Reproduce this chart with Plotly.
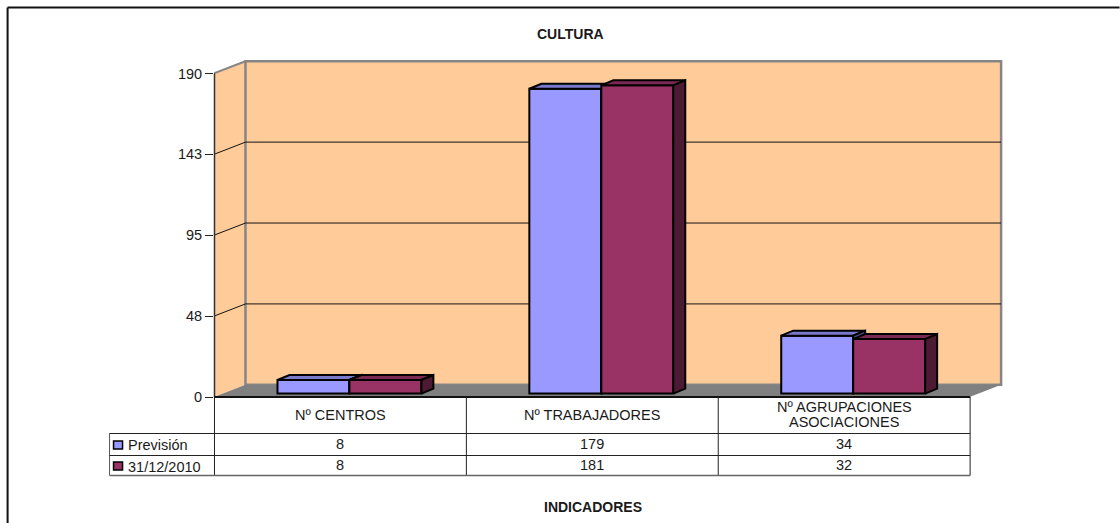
import plotly.graph_objects as go

# ---- data ----
categories = ["Nº CENTROS", "Nº TRABAJADORES", "Nº AGRUPACIONES<br>ASOCIACIONES"]
prevision = [8, 179, 34]
dic2010 = [8, 181, 32]
series_names = ["Previsión", "31/12/2010"]
tick_vals = [0, 47.5, 95, 142.5, 190]
tick_text = ["0", "48", "95", "143", "190"]
title_text = "CULTURA"
xtitle_text = "INDICADORES"

# ---- style ----
FONT = "Liberation Sans, Arial, sans-serif"
FS = 14.5
TXT = "#1a1a1a"
WALL = "#FFCC99"
EDGE = "#868686"
FLOOR = "#808080"
C1, C1_TOP, C1_SIDE = "#9999FF", "#7A7ACC", "#4D4D80"
C2, C2_TOP, C2_SIDE = "#993366", "#7A2952", "#4D1A33"

W, H = 1120, 523
L, T, B = 214, 56, 126
CAT_W = 252.0          # px per category
Y_SCALE = 1.703        # px per value unit
XMAX = 3.2
PW = XMAX * CAT_W
PH = H - T - B
YMAX = PH / Y_SCALE
R = W - L - PW


def px(x):
    return (x - L) / PW


def py(y):
    return 1 - (y - T) / PH


# depth in axis units
WALL_DX, WALL_DY = 31.5 / CAT_W, 12.2 / Y_SCALE
BAR_OX, BAR_BASE = 9.5 / CAT_W, 3.4 / Y_SCALE
BAR_DX, BAR_DY = 12.0 / CAT_W, 5.0 / Y_SCALE
BAR_W = 72.0 / CAT_W


def faces(values, shift):
    """Top and side polygons of the 3-D bars, from the values."""
    tx, ty, sx, sy = [], [], [], []
    for i, v in enumerate(values):
        x0 = i + 0.5 + BAR_OX + shift - BAR_W / 2
        x1 = x0 + BAR_W
        t = BAR_BASE + v
        tx += [x0, x0 + BAR_DX, x1 + BAR_DX, x1, x0, None]
        ty += [t, t + BAR_DY, t + BAR_DY, t, t, None]
        sx += [x1, x1 + BAR_DX, x1 + BAR_DX, x1, x1, None]
        sy += [BAR_BASE, BAR_BASE + BAR_DY, t + BAR_DY, t, BAR_BASE, None]
    return tx, ty, sx, sy


fig = go.Figure()


def add_series(values, shift, name, col, top, side, xa, ya):
    centers = [i + 0.5 + BAR_OX + shift for i in range(len(values))]
    fig.add_trace(go.Bar(x=centers, y=values, base=BAR_BASE, width=BAR_W, name=name,
                         marker=dict(color=col, line=dict(color="black", width=2)),
                         xaxis=xa, yaxis=ya, showlegend=False, hoverinfo="skip"))
    tx, ty, sx, sy = faces(values, shift)
    for fx, fy, c in ((tx, ty, top), (sx, sy, side)):
        fig.add_trace(go.Scatter(x=fx, y=fy, mode="lines", fill="toself", fillcolor=c,
                                 line=dict(color="black", width=2), xaxis=xa, yaxis=ya,
                                 showlegend=False, hoverinfo="skip"))


add_series(prevision, -BAR_W / 2, series_names[0], C1, C1_TOP, C1_SIDE, "x", "y")
add_series(dic2010, BAR_W / 2, series_names[1], C2, C2_TOP, C2_SIDE, "x2", "y2")

n = len(categories)
shapes = []
# side wall
shapes.append(dict(type="path", xref="x", yref="y", layer="below",
                   path=f"M0,0 L{WALL_DX},{WALL_DY} L{WALL_DX},{190+WALL_DY} L0,190 Z",
                   fillcolor=WALL, line=dict(width=0)))
# back wall
shapes.append(dict(type="rect", xref="x", yref="y", layer="below",
                   x0=WALL_DX, x1=n + WALL_DX, y0=WALL_DY, y1=190 + WALL_DY,
                   fillcolor=WALL, line=dict(color=EDGE, width=2.5)))
# top of side wall
shapes.append(dict(type="line", xref="x", yref="y", layer="below",
                   x0=0, x1=WALL_DX, y0=190, y1=190 + WALL_DY, line=dict(color=EDGE, width=2)))
# floor
shapes.append(dict(type="path", xref="x", yref="y", layer="below",
                   path=f"M0,0 L{WALL_DX},{WALL_DY} L{n+WALL_DX},{WALL_DY} L{n},0 Z",
                   fillcolor=FLOOR, line=dict(width=0)))
# gridlines on both walls
for v in tick_vals[1:-1]:
    shapes.append(dict(type="line", xref="x", yref="y", layer="below",
                       x0=0, x1=WALL_DX, y0=v, y1=v + WALL_DY, line=dict(color="#111111", width=1)))
    shapes.append(dict(type="line", xref="x", yref="y", layer="below",
                       x0=WALL_DX, x1=n + WALL_DX, y0=v + WALL_DY, y1=v + WALL_DY,
                       line=dict(color="#111111", width=1)))


def pline(x0, y0, x1, y1, color="#222222", width=1):
    shapes.append(dict(type="line", xref="paper", yref="paper", x0=px(x0), x1=px(x1),
                       y0=py(y0), y1=py(y1), line=dict(color=color, width=width)))


# outer frame, open to the right and bottom edges
pline(7.5, 7.5, W, 7.5, "#111111", 2)
pline(7.5, 7.5, 7.5, H, "#111111", 2)

# value axis line, floor edge
pline(214.5, 73.5, 214.5, 397, "#333333", 1.5)
pline(214.5, 397, 970.5, 397, "#111111", 2)

# data table
T_X = [214.5, 466.5, 718.5, 970.5]
T_LEFT = 109.5
R1, R2, R3 = 433.5, 455.5, 475.5
for x in T_X:
    pline(x, 397, x, R3)
pline(T_LEFT, R1, T_LEFT, R3, "#555555")
pline(T_LEFT, R1, 970.5, R1)
pline(T_LEFT, R2, 970.5, R2)
pline(T_LEFT, R3, 970.5, R3, "#666666", 1.5)

# legend keys
KEY_X0, KEY_X1 = 113.5, 122.5
for (y0, y1), c in zip(((441, 449), (462, 470)), (C1, C2)):
    shapes.append(dict(type="rect", xref="paper", yref="paper", x0=px(KEY_X0), x1=px(KEY_X1),
                       y0=py(y0), y1=py(y1), fillcolor=c, line=dict(color="black", width=1.5)))

ann = []


def text(x, y, s, size=FS, bold=False, anchor="center"):
    ann.append(dict(xref="paper", yref="paper", x=px(x), y=py(y), text=f"<b>{s}</b>" if bold else s,
                    showarrow=False, xanchor=anchor, yanchor="middle", align="center",
                    font=dict(family=FONT, size=size, color=TXT)))


text(570.5, 33.5, title_text, 14, True)
text(593, 506.5, xtitle_text, 14, True)
for i, c in enumerate(categories):
    cx = (T_X[i] + T_X[i + 1]) / 2
    lines = c.split("<br>")
    y0 = 414.5 - (len(lines) - 1) * 15.5 / 2
    for k, part in enumerate(lines):
        text(cx, y0 + k * 15.5, part)
    text(cx, 444, str(prevision[i]))
    text(cx, 465, str(dic2010[i]))
text(125.5, 445, series_names[0], anchor="left")
text(125.5, 466.5, series_names[1], anchor="left")

fig.update_layout(
    width=W, height=H, margin=dict(l=L, r=R, t=T, b=B, pad=0, autoexpand=False),
    paper_bgcolor="white", plot_bgcolor="rgba(0,0,0,0)", showlegend=False,
    shapes=shapes, annotations=ann, font=dict(family=FONT, size=FS, color=TXT),
    xaxis=dict(range=[0, XMAX], visible=False, fixedrange=True),
    yaxis=dict(range=[0, YMAX], tickmode="array", tickvals=tick_vals, ticktext=tick_text,
               ticks="outside", ticklen=8, tickwidth=1, tickcolor="#222222",
               showgrid=False, zeroline=False, showline=False, fixedrange=True,
               tickfont=dict(family=FONT, size=FS, color=TXT)),
    xaxis2=dict(range=[0, XMAX], visible=False, overlaying="x", fixedrange=True),
    yaxis2=dict(range=[0, YMAX], visible=False, overlaying="y", fixedrange=True),
)

fig.write_html("out.html", config={"displayModeBar": False},
               post_script="document.body.style.margin='0';document.documentElement.style.overflow='hidden';")
